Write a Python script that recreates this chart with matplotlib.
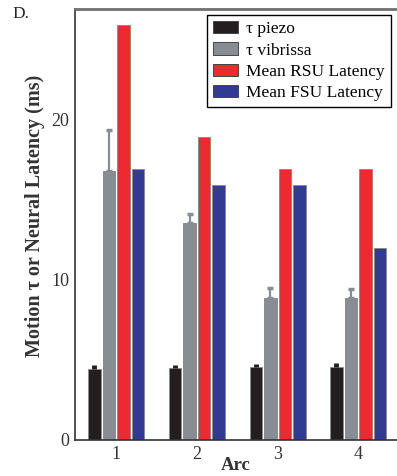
import matplotlib
matplotlib.use("Agg")
import matplotlib.pyplot as plt
import numpy as np

plt.rcParams['font.family'] = ['Liberation Serif', 'DejaVu Serif']

arcs = [1, 2, 3, 4]
arc_labels = ["1", "2", "3", "4"]

tau_piezo = [4.45, 4.48, 4.55, 4.58]
tau_piezo_err = [0.22, 0.22, 0.22, 0.22]
tau_vibrissa = [16.75, 13.55, 8.88, 8.85]
tau_vibrissa_err = [2.55, 0.55, 0.58, 0.58]
rsu_latency = [25.9, 18.9, 16.9, 16.9]
fsu_latency = [16.9, 15.9, 15.9, 12.0]

series_names = ["\u03c4 piezo", "\u03c4 vibrissa", "Mean RSU Latency", "Mean FSU Latency"]
series_colors = ["#231f20", "#878d93", "#ec2a30", "#313b94"]

fig = plt.figure(figsize=(3.97, 4.76), dpi=100)
ax = fig.add_axes([75 / 397, 36 / 476, 1 - 75 / 397, 431.4 / 476])

x = np.array(arcs, dtype=float)
step = 0.18
width = 0.155
values = [tau_piezo, tau_vibrissa, rsu_latency, fsu_latency]
errors = [tau_piezo_err, tau_vibrissa_err, None, None]
err_style = [dict(elinewidth=3.5, capsize=0, capthick=0),
             dict(elinewidth=1.6, capsize=2.2, capthick=2.5),
             None, None]

handles = []
for i, (vals, err, col, name) in enumerate(zip(values, errors, series_colors, series_names)):
    pos = x + (i - 1.5) * step
    bars = ax.bar(pos, vals, width=width, color=col, edgecolor="#8c8c8c",
                  linewidth=0.7, label=name, zorder=2)
    handles.append(bars)
    if err is not None:
        ax.errorbar(pos, vals, yerr=[np.zeros(len(err)), err], fmt="none",
                    ecolor=col, zorder=3, **err_style[i])

ax.set_xlim(0.49, 4.48)
ax.set_ylim(0, 26.9)
ax.set_yticks([0, 10, 20])
ax.set_xticks(arcs)
ax.set_xticklabels(arc_labels)
ax.tick_params(axis="both", length=0, labelsize=13, colors="#333333", pad=4)

for side in ["left", "bottom"]:
    ax.spines[side].set_color("#333333")
    ax.spines[side].set_linewidth(1.2)
ax.spines["top"].set_color("#707070")
ax.spines["top"].set_linewidth(2)
ax.spines["right"].set_visible(False)

ax.set_ylabel("Motion \u03c4 or Neural Latency (ms)", fontsize=14.5,
              fontweight="bold", color="#333333")
ax.yaxis.set_label_coords(-0.124, 0.52)
ax.yaxis.label.set_va("center")
ax.set_xlabel("Arc", fontsize=13.5, fontweight="bold", color="#333333")
ax.xaxis.set_label_coords(0.5, -0.06)
ax.xaxis.label.set_va("center")

leg = fig.legend(handles=handles, labels=series_names, loc="upper right",
                 bbox_to_anchor=(391 / 397, 1 - 15 / 476), fontsize=12.5,
                 frameon=True, fancybox=False, edgecolor="black",
                 framealpha=1, borderaxespad=0, handlelength=1.45,
                 handleheight=0.7, handletextpad=0.45, borderpad=0.35,
                 labelspacing=0.3)
leg.get_frame().set_linewidth(1.0)
for h in leg.legend_handles:
    h.set_edgecolor("#444444")

fig.text(12 / 397, 1 - 18 / 476, "D.", fontsize=12.5, color="#222222",
         ha="left", va="baseline")

fig.savefig("out.png", dpi=100)
